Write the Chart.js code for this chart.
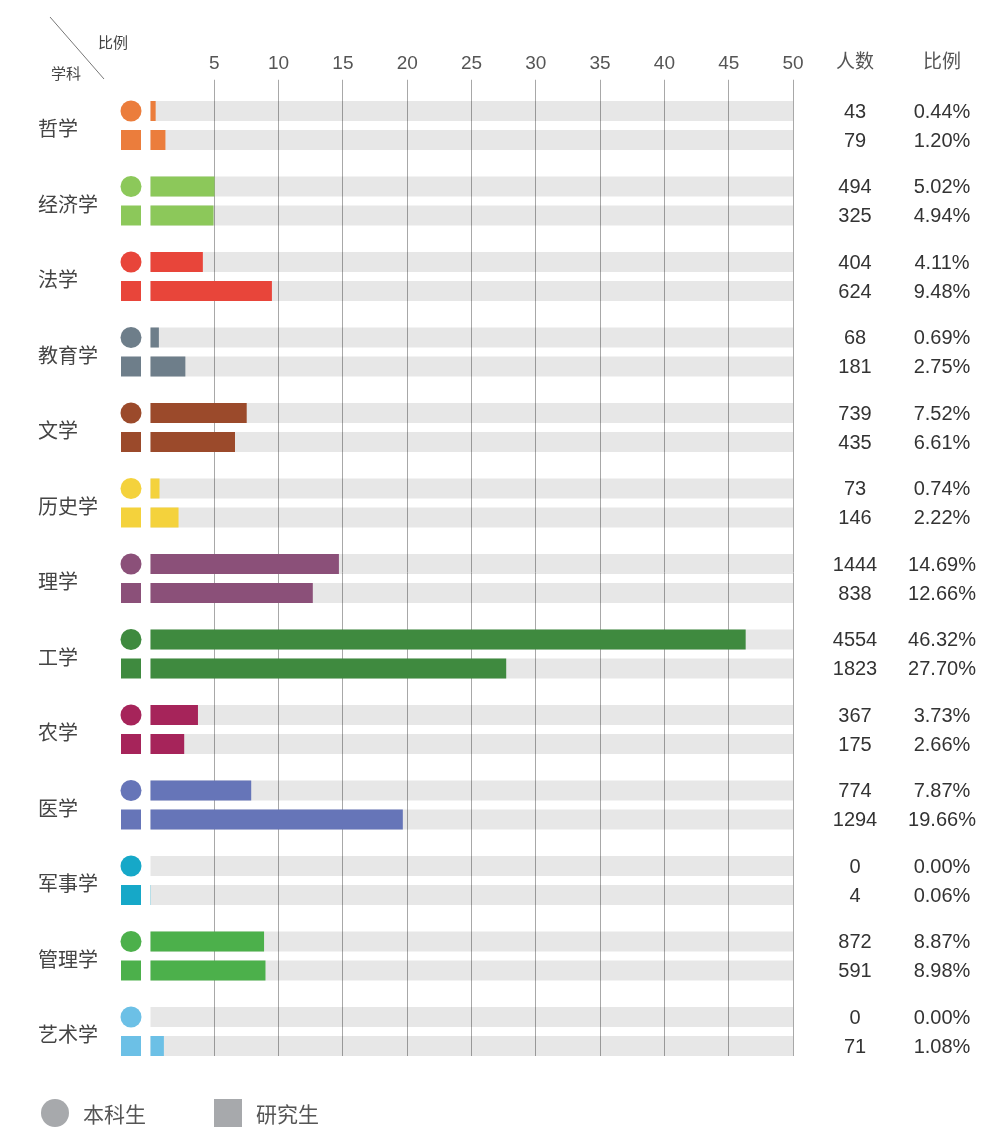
<!DOCTYPE html>
<html>
<head>
<meta charset="utf-8">
<script src="https://cdn.jsdelivr.net/npm/chart.js@4/dist/chart.umd.min.js"></script>
<style>
  html,body{margin:0;padding:0;background:#fff;}
  #wrap{position:relative;width:983px;height:1128px;}
  canvas{position:absolute;left:0;top:0;}
  .leg{position:absolute;top:1099px;height:28px;display:flex;align-items:center;font-family:'Noto Sans CJK SC',sans-serif;font-size:21px;color:#555;}
  .sw{width:28px;height:28px;background:#a7a9ac;margin-right:14px;}
</style>
</head>
<body>
<div id="wrap">
  <canvas id="c" width="983" height="1128"></canvas>
  <div class="leg" style="left:41px"><div class="sw" style="border-radius:50%"></div><span>本科生</span></div>
  <div class="leg" style="left:214px"><div class="sw"></div><span>研究生</span></div>
</div>
<script>
const categories = ['哲学','经济学','法学','教育学','文学','历史学','理学','工学','农学','医学','军事学','管理学','艺术学'];
const ugCount = [43,494,404,68,739,73,1444,4554,367,774,0,872,0];
const pgCount = [79,325,624,181,435,146,838,1823,175,1294,4,591,71];
const ugPct = [0.44,5.02,4.11,0.69,7.52,0.74,14.69,46.32,3.73,7.87,0.00,8.87,0.00];
const pgPct = [1.20,4.94,9.48,2.75,6.61,2.22,12.66,27.70,2.66,19.66,0.06,8.98,1.08];
const colors = ['#eb7d3c','#8cc85a','#e8453a','#6e7e8a','#9b4a2b','#f4d23c','#8b5079','#3f8a3f','#a6245a','#6675b8','#16a8c8','#4cb04b','#6cc0e6'];
const xTicks = [5,10,15,20,25,30,35,40,45,50];
const axisMax = 50;
const track = categories.map(() => axisMax);

const FONT_NUM = "'Liberation Sans','Noto Sans CJK SC',sans-serif";
const FONT_CJK = "'Noto Sans CJK SC',sans-serif";

const overlay = {
  id: 'overlay',
  beforeDraw(chart) {
    const ctx = chart.ctx;
    const meta = chart.getDatasetMeta(3);
    const last = meta.data[meta.data.length - 1];
    const bottom = last.y + last.height / 2;
    ctx.save();
    ctx.beginPath();
    ctx.rect(0, 0, chart.width, bottom);
    ctx.clip();
  },
  beforeDatasetsDraw(chart) {
    chart.ctx.restore();
  },
  afterDatasetsDraw(chart) {
    const ctx = chart.ctx;
    const area = chart.chartArea;
    ctx.save();
    [0, 1].forEach(di => {
      const meta = chart.getDatasetMeta(di);
      meta.data.forEach((el, i) => {
        const s = el.height;
        const cx = area.left - 19;
        const cy = el.y;
        ctx.fillStyle = colors[i];
        ctx.beginPath();
        if (di === 0) {
          ctx.arc(cx, cy, s / 2 + 0.5, 0, Math.PI * 2);
        } else {
          ctx.rect(cx - s / 2, cy - s / 2, s, s);
        }
        ctx.fill();
        const cnt = di === 0 ? ugCount[i] : pgCount[i];
        const pct = di === 0 ? ugPct[i] : pgPct[i];
        ctx.fillStyle = '#333';
        ctx.font = '20px ' + FONT_NUM;
        ctx.textAlign = 'center';
        ctx.textBaseline = 'middle';
        ctx.fillText(String(cnt), area.right + 62, cy + 1);
        ctx.fillText(pct.toFixed(2) + '%', area.right + 149, cy + 1);
      });
    });
    // column headers
    ctx.fillStyle = '#555';
    ctx.font = '19px ' + FONT_CJK;
    ctx.textAlign = 'center';
    ctx.textBaseline = 'middle';
    ctx.fillText('人数', area.right + 62, 61);
    ctx.fillText('比例', area.right + 149, 61);
    // corner header
    ctx.strokeStyle = '#777';
    ctx.lineWidth = 1;
    ctx.beginPath();
    ctx.moveTo(50, 17);
    ctx.lineTo(104, 79);
    ctx.stroke();
    ctx.fillStyle = '#444';
    ctx.font = '15px ' + FONT_CJK;
    ctx.fillText('比例', 113, 42);
    ctx.fillText('学科', 66, 73);
    ctx.restore();
  }
};

new Chart(document.getElementById('c'), {
  type: 'bar',
  data: {
    labels: categories,
    datasets: [
      { label: '本科生', data: ugPct, backgroundColor: colors, stack: 'ug', borderWidth: 0 },
      { label: '研究生', data: pgPct, backgroundColor: colors, stack: 'pg', borderWidth: 0 },
      { label: 'track-ug', data: track, backgroundColor: 'rgba(0,0,0,0.095)', stack: 'ug', borderWidth: 0 },
      { label: 'track-pg', data: track, backgroundColor: 'rgba(0,0,0,0.095)', stack: 'pg', borderWidth: 0 }
    ]
  },
  options: {
    indexAxis: 'y',
    responsive: false,
    animation: false,
    categoryPercentage: 0.768,
    barPercentage: 0.69,
    layout: { padding: { left: 38, right: 190, top: 0, bottom: 58.75 } },
    plugins: { legend: { display: false }, tooltip: { enabled: false } },
    scales: {
      x: {
        position: 'top',
        min: 0,
        max: axisMax,
        stacked: false,
        afterBuildTicks: s => { s.ticks = [0].concat(xTicks).map(v => ({ value: v })); },
        afterFit: s => { s.height = 87.75; },
        ticks: {
          padding: 5,
          color: '#555',
          font: { size: 19, family: FONT_NUM },
          callback: v => (v === 0 ? '' : String(v))
        },
        grid: {
          color: c => (c.tick && c.tick.value === 0 ? 'rgba(0,0,0,0)' : '#a8a8a8'),
          lineWidth: 1,
          tickLength: 8
        },
        border: { display: false }
      },
      y: {
        afterFit: s => { s.width = 112; },
        grid: { display: false },
        border: { display: false },
        ticks: {
          crossAlign: 'far',
          labelOffset: 3,
          color: '#444',
          font: { size: 20, family: FONT_CJK }
        }
      }
    }
  },
  plugins: [overlay]
});
</script>
</body>
</html>
